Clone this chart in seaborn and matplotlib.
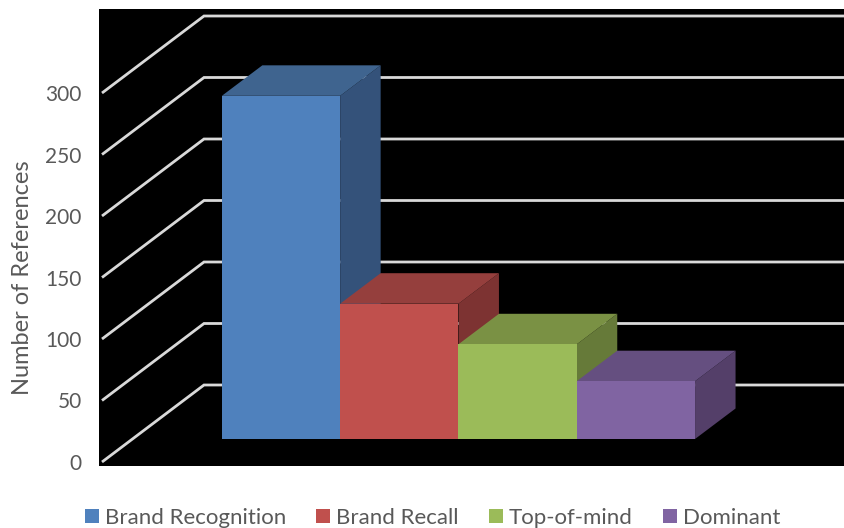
import numpy as np
import matplotlib
matplotlib.use("Agg")
import matplotlib.pyplot as plt
from matplotlib.patches import Patch, Polygon
import seaborn as sns

categories = ["Brand Recognition", "Brand Recall", "Top-of-mind", "Dominant"]
references = [279, 110, 77, 47]
tick_values = [0, 50, 100, 150, 200, 250, 300]

front_colors = ["#4F81BD", "#C0504D", "#9BBB59", "#8064A2"]
top_colors = ["#3F648F", "#953F3D", "#7A9144", "#654F80"]
side_colors = ["#34527A", "#7D3332", "#667A39", "#543F69"]

sns.set_theme(style="white")
plt.rcParams["font.family"] = ["Lato", "DejaVu Sans"]
GREY = "#595959"

W, H = 845, 528
fig = plt.figure(figsize=(W / 100, H / 100), dpi=100, facecolor="white")

# Panel extents and scale, in pixels
LEFT, RIGHT, TOP, BOTTOM = 99, 845, 9, 466
PX_X, PX_Y = 118.3, 1.23
X_CENTER, Y_BASE = 281, 439
ax = fig.add_axes([LEFT / W, 1 - BOTTOM / H, (RIGHT - LEFT) / W, (BOTTOM - TOP) / H])
ax.set_facecolor("black")

sns.barplot(x=categories, y=references, hue=categories, palette=front_colors,
            width=1.0, dodge=False, legend=False, saturation=1, ax=ax)

ax.set_xlim((LEFT - X_CENTER) / PX_X, (RIGHT - X_CENTER) / PX_X)
ax.set_ylim((Y_BASE - BOTTOM) / PX_Y, (Y_BASE - TOP) / PX_Y)

# Depth of each box and of the floor, in data units
box_dx, box_dy = 40.5 / PX_X, 30.5 / PX_Y
wall_x = (204 - X_CENTER) / PX_X
front_x = (102 - X_CENTER) / PX_X
wall_y0 = (Y_BASE - 385) / PX_Y
front_y0 = (Y_BASE - 462) / PX_Y

# Perspective gridlines: diagonal on the side wall, level along the back wall
for v in tick_values:
    ax.plot([front_x, wall_x, ax.get_xlim()[1]],
            [front_y0 + v, wall_y0 + v, wall_y0 + v],
            color="#D9D9D9", lw=2.0, zorder=1, solid_joinstyle="miter",
            solid_capstyle="butt")

# Extruded faces; later boxes sit over the sides of earlier ones
for i, bar in enumerate(ax.patches):
    x0, x1 = bar.get_x(), bar.get_x() + bar.get_width()
    h = bar.get_height()
    base = 3 + i * 3
    ax.add_patch(Polygon([(x1, 0), (x1 + box_dx, box_dy), (x1 + box_dx, h + box_dy), (x1, h)],
                         closed=True, fc=side_colors[i], ec="none", zorder=base))
    ax.add_patch(Polygon([(x0, h), (x0 + box_dx, h + box_dy), (x1 + box_dx, h + box_dy), (x1, h)],
                         closed=True, fc=top_colors[i], ec="none", zorder=base + 1))
    bar.set_zorder(base + 2)
    bar.set_edgecolor("none")

ax.set_yticks(front_y0 + np.array(tick_values), labels=[str(v) for v in tick_values])
ax.set_xticks([])
ax.tick_params(axis="y", length=0, pad=12.5, labelsize=15, labelcolor=GREY)
ax.set_xlabel("")
ax.set_ylabel("Number of References", fontsize=17, color=GREY, va="center")
ax.yaxis.set_label_coords((23 - LEFT) / (RIGHT - LEFT), (BOTTOM - 278) / (BOTTOM - TOP))
for spine in ax.spines.values():
    spine.set_visible(False)

handles = [Patch(fc=c, ec="none") for c in front_colors]
fig.legend(handles, categories, ncols=4, frameon=False, loc="lower left",
           bbox_to_anchor=(85 / W, 0.0), borderaxespad=0, borderpad=0,
           fontsize=16, labelcolor=GREY, handlelength=0.63, handleheight=0.63,
           handletextpad=0.27, columnspacing=1.35)

fig.savefig("out.png", dpi=100)
